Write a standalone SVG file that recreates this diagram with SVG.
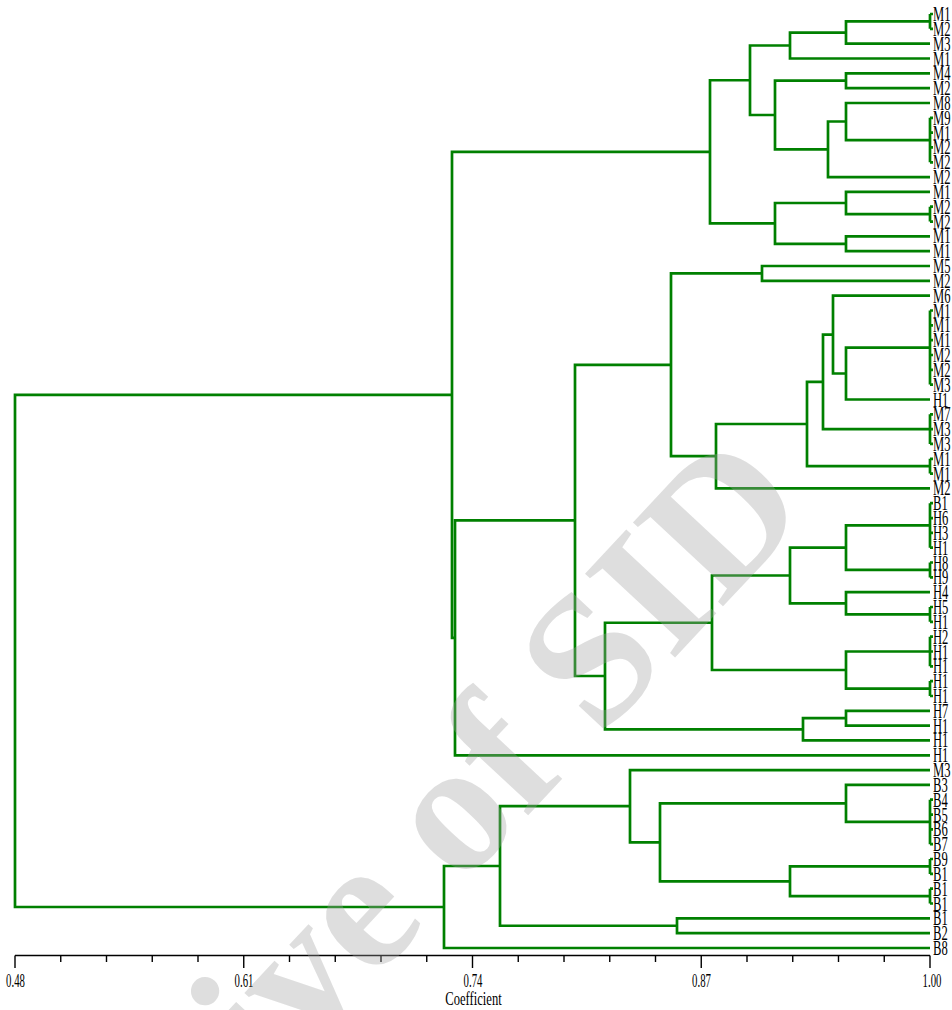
<svg xmlns="http://www.w3.org/2000/svg" width="952" height="1010" viewBox="0 0 952 1010">
<style>
.ln{fill:none;stroke:#008000;stroke-width:2.7;stroke-linejoin:miter}
.lbl{font-family:"Liberation Serif","Times New Roman",serif;font-size:21px;fill:#000}
.ax{fill:none;stroke:#000;stroke-width:1.4}
.tl{font-family:"Liberation Serif","Times New Roman",serif;font-size:18px;fill:#000;text-anchor:middle}
.wm{font-family:"Liberation Serif","Times New Roman",serif;font-size:188px;font-weight:bold;fill:#a0a0a0;fill-opacity:0.35}
</style>
<rect width="952" height="1010" fill="#fff"/>
<g id="connectors">
<path class="ln" d="M930 14 V28.8 M930 14 H933 M930 28.8 H933"/>
<path class="ln" d="M930 21.4 H846 V43.7 H930"/>
<path class="ln" d="M846 32.55 H790 V58.5 H930"/>
<path class="ln" d="M930 73.3 H846 V88.1 H930"/>
<path class="ln" d="M930 117.8 V162.3 M930 117.8 H933 M930 132.6 H933 M930 147.4 H933 M930 162.3 H933"/>
<path class="ln" d="M930 103 H846 V140.05 H930"/>
<path class="ln" d="M846 121.5 H828 V177.1 H930"/>
<path class="ln" d="M846 80.7 H775 V149.3 H828"/>
<path class="ln" d="M790 45.5 H750 V115 H775"/>
<path class="ln" d="M930 206.7 V221.6 M930 206.7 H933 M930 221.6 H933"/>
<path class="ln" d="M930 191.9 H846 V214.15 H930"/>
<path class="ln" d="M930 236.4 H846 V251.2 H930"/>
<path class="ln" d="M846 203 H775 V243.8 H846"/>
<path class="ln" d="M750 80.25 H710 V223.4 H775"/>
<path class="ln" d="M930 266 H762 V280.9 H930"/>
<path class="ln" d="M930 310.5 V384.6 M930 310.5 H933 M930 325.3 H933 M930 340.2 H933 M930 355 H933 M930 369.8 H933 M930 384.6 H933"/>
<path class="ln" d="M930 347.55 H846 V399.5 H930"/>
<path class="ln" d="M930 295.7 H833 V373.5 H846"/>
<path class="ln" d="M930 414.3 V443.9 M930 414.3 H933 M930 429.1 H933 M930 443.9 H933"/>
<path class="ln" d="M833 334.6 H823 V429.1 H930"/>
<path class="ln" d="M930 458.8 V473.6 M930 458.8 H933 M930 473.6 H933"/>
<path class="ln" d="M823 381.85 H807 V466.2 H930"/>
<path class="ln" d="M807 424 H716 V488.4 H930"/>
<path class="ln" d="M762 273.45 H671 V456.2 H716"/>
<path class="ln" d="M930 503.2 V547.7 M930 503.2 H933 M930 518.1 H933 M930 532.9 H933 M930 547.7 H933"/>
<path class="ln" d="M930 562.5 V577.4 M930 562.5 H933 M930 577.4 H933"/>
<path class="ln" d="M930 525.45 H846 V569.95 H930"/>
<path class="ln" d="M930 607 V621.8 M930 607 H933 M930 621.8 H933"/>
<path class="ln" d="M930 592.2 H846 V614.4 H930"/>
<path class="ln" d="M846 547.7 H790 V603.3 H846"/>
<path class="ln" d="M930 636.7 V666.3 M930 636.7 H933 M930 651.5 H933 M930 666.3 H933"/>
<path class="ln" d="M930 681.1 V696 M930 681.1 H933 M930 696 H933"/>
<path class="ln" d="M930 651.5 H846 V688.55 H930"/>
<path class="ln" d="M790 575.5 H712 V670 H846"/>
<path class="ln" d="M930 710.8 H846 V725.6 H930"/>
<path class="ln" d="M846 718.2 H803 V740.4 H930"/>
<path class="ln" d="M712 622.75 H605 V729.3 H803"/>
<path class="ln" d="M671 364.8 H575 V676 H605"/>
<path class="ln" d="M575 520.4 H455 V755.3 H930"/>
<path class="ln" d="M710 151.8 H452 V637.85 H455"/>
<path class="ln" d="M930 799.7 V844.2 M930 799.7 H933 M930 814.6 H933 M930 829.4 H933 M930 844.2 H933"/>
<path class="ln" d="M930 784.9 H846 V821.95 H930"/>
<path class="ln" d="M930 859 V873.9 M930 859 H933 M930 873.9 H933"/>
<path class="ln" d="M930 888.7 V903.5 M930 888.7 H933 M930 903.5 H933"/>
<path class="ln" d="M930 866.45 H790 V896.1 H930"/>
<path class="ln" d="M846 803.4 H660 V881.3 H790"/>
<path class="ln" d="M930 770.1 H630 V842.35 H660"/>
<path class="ln" d="M930 918.3 H677 V933.2 H930"/>
<path class="ln" d="M630 806.2 H500 V925.75 H677"/>
<path class="ln" d="M500 866 H444 V948 H930"/>
<path class="ln" d="M452 394.8 H15 V907 H444"/>
</g>
<g id="leaves">
<g id="n0"><text class="lbl" transform="translate(933 21) scale(0.6 1)">M1</text></g>
<g id="n1"><text class="lbl" transform="translate(933 35.8) scale(0.6 1)">M2</text></g>
<g id="n2"><text class="lbl" transform="translate(933 50.7) scale(0.6 1)">M3</text></g>
<g id="n3"><text class="lbl" transform="translate(933 65.5) scale(0.6 1)">M1</text></g>
<g id="n4"><text class="lbl" transform="translate(933 80.3) scale(0.6 1)">M4</text></g>
<g id="n5"><text class="lbl" transform="translate(933 95.1) scale(0.6 1)">M2</text></g>
<g id="n6"><text class="lbl" transform="translate(933 110) scale(0.6 1)">M8</text></g>
<g id="n7"><text class="lbl" transform="translate(933 124.8) scale(0.6 1)">M9</text></g>
<g id="n8"><text class="lbl" transform="translate(933 139.6) scale(0.6 1)">M1</text></g>
<g id="n9"><text class="lbl" transform="translate(933 154.4) scale(0.6 1)">M2</text></g>
<g id="n10"><text class="lbl" transform="translate(933 169.3) scale(0.6 1)">M2</text></g>
<g id="n11"><text class="lbl" transform="translate(933 184.1) scale(0.6 1)">M2</text></g>
<g id="n12"><text class="lbl" transform="translate(933 198.9) scale(0.6 1)">M1</text></g>
<g id="n13"><text class="lbl" transform="translate(933 213.7) scale(0.6 1)">M2</text></g>
<g id="n14"><text class="lbl" transform="translate(933 228.6) scale(0.6 1)">M2</text></g>
<g id="n15"><text class="lbl" transform="translate(933 243.4) scale(0.6 1)">M1</text></g>
<g id="n16"><text class="lbl" transform="translate(933 258.2) scale(0.6 1)">M1</text></g>
<g id="n17"><text class="lbl" transform="translate(933 273) scale(0.6 1)">M5</text></g>
<g id="n18"><text class="lbl" transform="translate(933 287.9) scale(0.6 1)">M2</text></g>
<g id="n19"><text class="lbl" transform="translate(933 302.7) scale(0.6 1)">M6</text></g>
<g id="n20"><text class="lbl" transform="translate(933 317.5) scale(0.6 1)">M1</text></g>
<g id="n21"><text class="lbl" transform="translate(933 332.3) scale(0.6 1)">M1</text></g>
<g id="n22"><text class="lbl" transform="translate(933 347.2) scale(0.6 1)">M1</text></g>
<g id="n23"><text class="lbl" transform="translate(933 362) scale(0.6 1)">M2</text></g>
<g id="n24"><text class="lbl" transform="translate(933 376.8) scale(0.6 1)">M2</text></g>
<g id="n25"><text class="lbl" transform="translate(933 391.6) scale(0.6 1)">M3</text></g>
<g id="n26"><text class="lbl" transform="translate(933 406.5) scale(0.6 1)">H1</text></g>
<g id="n27"><text class="lbl" transform="translate(933 421.3) scale(0.6 1)">M7</text></g>
<g id="n28"><text class="lbl" transform="translate(933 436.1) scale(0.6 1)">M3</text></g>
<g id="n29"><text class="lbl" transform="translate(933 450.9) scale(0.6 1)">M3</text></g>
<g id="n30"><text class="lbl" transform="translate(933 465.8) scale(0.6 1)">M1</text></g>
<g id="n31"><text class="lbl" transform="translate(933 480.6) scale(0.6 1)">M1</text></g>
<g id="n32"><text class="lbl" transform="translate(933 495.4) scale(0.6 1)">M2</text></g>
<g id="n33"><text class="lbl" transform="translate(933 510.2) scale(0.6 1)">B1</text></g>
<g id="n34"><text class="lbl" transform="translate(933 525.1) scale(0.6 1)">H6</text></g>
<g id="n35"><text class="lbl" transform="translate(933 539.9) scale(0.6 1)">H3</text></g>
<g id="n36"><text class="lbl" transform="translate(933 554.7) scale(0.6 1)">H1</text></g>
<g id="n37"><text class="lbl" transform="translate(933 569.5) scale(0.6 1)">H8</text></g>
<g id="n38"><text class="lbl" transform="translate(933 584.4) scale(0.6 1)">H9</text></g>
<g id="n39"><text class="lbl" transform="translate(933 599.2) scale(0.6 1)">H4</text></g>
<g id="n40"><text class="lbl" transform="translate(933 614) scale(0.6 1)">H5</text></g>
<g id="n41"><text class="lbl" transform="translate(933 628.8) scale(0.6 1)">H1</text></g>
<g id="n42"><text class="lbl" transform="translate(933 643.7) scale(0.6 1)">H2</text></g>
<g id="n43"><text class="lbl" transform="translate(933 658.5) scale(0.6 1)">H1</text></g>
<g id="n44"><text class="lbl" transform="translate(933 673.3) scale(0.6 1)">H1</text></g>
<g id="n45"><text class="lbl" transform="translate(933 688.1) scale(0.6 1)">H1</text></g>
<g id="n46"><text class="lbl" transform="translate(933 703) scale(0.6 1)">H1</text></g>
<g id="n47"><text class="lbl" transform="translate(933 717.8) scale(0.6 1)">H7</text></g>
<g id="n48"><text class="lbl" transform="translate(933 732.6) scale(0.6 1)">H1</text></g>
<g id="n49"><text class="lbl" transform="translate(933 747.4) scale(0.6 1)">H1</text></g>
<g id="n50"><text class="lbl" transform="translate(933 762.3) scale(0.6 1)">H1</text></g>
<g id="n51"><text class="lbl" transform="translate(933 777.1) scale(0.6 1)">M3</text></g>
<g id="n52"><text class="lbl" transform="translate(933 791.9) scale(0.6 1)">B3</text></g>
<g id="n53"><text class="lbl" transform="translate(933 806.7) scale(0.6 1)">B4</text></g>
<g id="n54"><text class="lbl" transform="translate(933 821.6) scale(0.6 1)">B5</text></g>
<g id="n55"><text class="lbl" transform="translate(933 836.4) scale(0.6 1)">B6</text></g>
<g id="n56"><text class="lbl" transform="translate(933 851.2) scale(0.6 1)">B7</text></g>
<g id="n57"><text class="lbl" transform="translate(933 866) scale(0.6 1)">B9</text></g>
<g id="n58"><text class="lbl" transform="translate(933 880.9) scale(0.6 1)">B1</text></g>
<g id="n59"><text class="lbl" transform="translate(933 895.7) scale(0.6 1)">B1</text></g>
<g id="n60"><text class="lbl" transform="translate(933 910.5) scale(0.6 1)">B1</text></g>
<g id="n61"><text class="lbl" transform="translate(933 925.3) scale(0.6 1)">B1</text></g>
<g id="n62"><text class="lbl" transform="translate(933 940.2) scale(0.6 1)">B2</text></g>
<g id="n63"><text class="lbl" transform="translate(933 955) scale(0.6 1)">B8</text></g>
</g>
<g id="axis">
<path class="ax" d="M15 955.5 H930"/>
<path class="ax" d="M15 955.5 V968 M243.75 955.5 V968 M472.5 955.5 V968 M701.25 955.5 V968 M930 955.5 V968"/>
<path class="ax" d="M60.75 955.5 V962 M106.5 955.5 V962 M152.25 955.5 V962 M198 955.5 V962 M289.5 955.5 V962 M335.25 955.5 V962 M381 955.5 V962 M426.75 955.5 V962 M518.25 955.5 V962 M564 955.5 V962 M609.75 955.5 V962 M655.5 955.5 V962 M747 955.5 V962 M792.75 955.5 V962 M838.5 955.5 V962 M884.25 955.5 V962"/>
<text class="tl" transform="translate(15.5 987) scale(0.6 1)">0.48</text>
<text class="tl" transform="translate(244 987) scale(0.6 1)">0.61</text>
<text class="tl" transform="translate(473 987) scale(0.6 1)">0.74</text>
<text class="tl" transform="translate(701.5 987) scale(0.6 1)">0.87</text>
<text class="tl" transform="translate(932 987) scale(0.6 1)">1.00</text>
<text class="tl" transform="translate(473.5 1005) scale(0.7 1)">Coefficient</text>
</g>
<text class="wm" transform="translate(272 1090) rotate(-47)">ive of SID</text>
</svg>
